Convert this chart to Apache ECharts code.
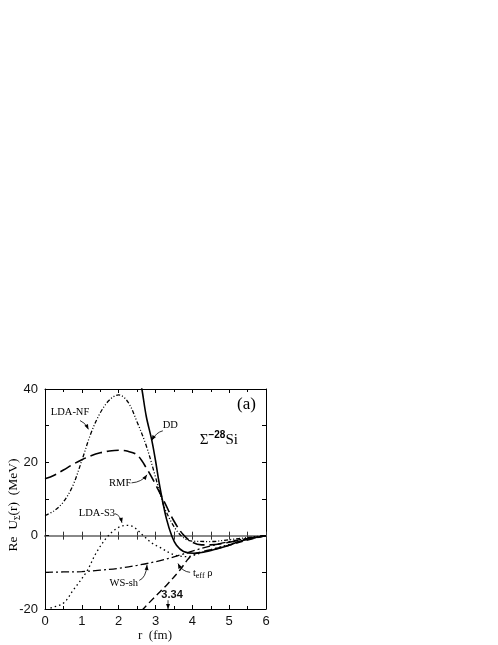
<!DOCTYPE html>
<html>
<head>
<meta charset="utf-8">
<script src="https://cdn.jsdelivr.net/npm/echarts@6/dist/echarts.min.js"></script>
<style>
  html, body { margin: 0; padding: 0; background: #fff; }
  #chart { width: 498px; height: 645px; }
</style>
</head>
<body>
<div id="chart"></div>
<script>
// curves: r in fm, Re U in MeV
const ddR = [2.55, 2.63, 2.75, 2.9, 3.0, 3.08, 3.17, 3.3, 3.44, 3.57, 3.76, 4.03, 4.3, 4.66, 5.0, 5.3, 5.65, 6.0]
const ddU = [44, 40, 32.5, 26, 20.5, 15.5, 10.6, 4.5, 0, -2.6, -4.3, -4.8, -4.5, -3.6, -2.6, -1.5, -0.6, 0]

const nfR = [0, 0.25, 0.5, 0.75, 1.0, 1.25, 1.5, 1.75, 2.0, 2.25, 2.5, 2.75, 3.0, 3.12, 3.25, 3.5, 3.75, 4.0, 4.5, 5.0, 5.5, 6.0]
const nfU = [5.5, 6.8, 9.2, 13.5, 20.5, 28, 33.5, 37, 38.4, 36.5, 31, 24.5, 16, 11.6, 7.5, 2.5, -0.5, -1.5, -1.6, -1.1, -0.5, 0]

const rmfR = [0, 0.25, 0.5, 0.75, 1.0, 1.25, 1.5, 1.75, 2.0, 2.25, 2.5, 2.75, 3.0, 3.25, 3.5, 3.75, 4.0, 4.25, 4.5, 5.0, 5.5, 6.0]
const rmfU = [15.5, 16.5, 17.9, 19.4, 20.7, 21.8, 22.6, 23.1, 23.3, 23.0, 22.0, 18.5, 14.0, 9.0, 4.0, 0.3, -1.8, -2.5, -2.5, -1.8, -0.8, 0]

const s3R = [0.05, 0.14, 0.5, 0.77, 1.13, 1.4, 1.72, 2.0, 2.2, 2.4, 2.67, 2.9, 3.1, 3.5, 3.85, 4.2, 4.5, 5.0, 5.5, 6.0]
const s3U = [-20.5, -19.8, -18.4, -14.8, -9.8, -4.5, 0, 2.3, 2.8, 2.4, 0, -2, -3.1, -5.2, -5.7, -4.8, -3.8, -2.4, -1.0, 0]

const wsR = [0, 0.5, 1.0, 1.5, 2.0, 2.5, 3.0, 3.5, 4.0, 4.5, 5.0, 5.5, 6.0]
const wsU = [-10, -9.9, -9.8, -9.4, -8.9, -8.1, -7.1, -5.8, -4.2, -2.8, -1.6, -0.7, 0]

const teffR = [2.62, 3.0, 3.3, 3.67, 3.85, 4.0, 4.3, 4.66, 5.0, 5.5, 6.0]
const teffU = [-20.5, -16.5, -13.5, -9.3, -6.8, -5.3, -4.3, -3.5, -2.6, -1.2, 0]

const xTicks = { min: 0, max: 6, interval: 1 }
const yTicks = { min: -20, max: 40, interval: 20 }

const pairs = (xs, ys) => xs.map((x, i) => [x, ys[i]])

const chart = echarts.init(document.getElementById('chart'))

const serif = '"Liberation Serif", "DejaVu Serif", serif'
const sans = '"Liberation Sans", Arial, sans-serif'

function frameAxis(pos, extra) {
  return Object.assign({
    type: 'value',
    position: pos,
    min: xTicks.min,
    max: xTicks.max,
    interval: xTicks.interval,
    axisLine: { onZero: false, lineStyle: { color: '#000', width: 1 } },
    axisTick: { inside: true, length: 4, lineStyle: { color: '#000' } },
    minorTick: { show: true, splitNumber: 2, length: 3, lineStyle: { color: '#000' } },
    axisLabel: { show: false },
    splitLine: { show: false },
  }, extra)
}

function zeroAxis(pos) {
  return {
    type: 'value',
    position: pos,
    min: xTicks.min,
    max: xTicks.max,
    interval: xTicks.interval,
    axisLine: { onZero: true, onZeroAxisIndex: 0, lineStyle: { color: '#888', width: 2 } },
    axisTick: { inside: true, length: 4, lineStyle: { color: '#333' } },
    minorTick: { show: true, splitNumber: 2, length: 4, lineStyle: { color: '#333' } },
    axisLabel: { show: false },
    splitLine: { show: false },
  }
}

function yFrame(pos, extra) {
  return Object.assign({
    type: 'value',
    position: pos,
    min: yTicks.min,
    max: yTicks.max,
    interval: yTicks.interval,
    axisLine: { show: true, onZero: false, lineStyle: { color: '#000', width: 1 } },
    axisTick: { inside: true, length: 4, lineStyle: { color: '#000' } },
    minorTick: { show: true, splitNumber: 2, length: 4, lineStyle: { color: '#000' } },
    axisLabel: { show: false },
    splitLine: { show: false },
  }, extra)
}

function curve(name, xs, ys, type, width) {
  return {
    name,
    type: 'line',
    data: pairs(xs, ys),
    showSymbol: false,
    symbol: 'none',
    smooth: 0.35,
    clip: true,
    z: 5,
    lineStyle: { color: '#000', width: width, type: type },
  }
}

chart.setOption({
  animation: false,
  backgroundColor: '#fff',
  grid: { left: 45, top: 389, width: 221, height: 220 },
  xAxis: [
    frameAxis('bottom', {
      axisLabel: { show: true, margin: 6, fontSize: 13, fontFamily: sans, color: '#111' },
    }),
    frameAxis('top'),
    zeroAxis('bottom'),
    zeroAxis('top'),
  ],
  yAxis: [
    yFrame('left', {
      axisLabel: { show: true, margin: 7, fontSize: 13, fontFamily: sans, color: '#111' },
    }),
    yFrame('right'),
  ],
  series: [
    curve('DD', ddR, ddU, 'solid', 1.6),
    curve('LDA-NF', nfR, nfU, [4, 2, 1, 2, 1, 2], 1.3),
    curve('RMF', rmfR, rmfU, [12, 5], 1.6),
    curve('LDA-S3', s3R, s3U, [1.5, 3], 1.3),
    curve('WS-sh', wsR, wsU, [8, 3, 2, 3], 1.3),
    curve('teff', teffR, teffU, [7, 4], 1.4),
  ],
})

// annotations placed in data coordinates
const px = p => chart.convertToPixel({ gridIndex: 0 }, p)

const labels = [
  { at: [0.68, 33.6], text: 'LDA-NF' },
  { at: [3.40, 30.2], text: 'DD' },
  { at: [2.04, 14.4], text: 'RMF' },
  { at: [1.41, 6.2], text: 'LDA-S3' },
  { at: [2.14, -12.9], text: 'WS-sh' },
  { at: [4.28, -10.2], text: '{t|t}{s|eff}{t| ρ}' },
]

const arrows = [
  { from: [0.95, 31.4], ctrl: [1.08, 31.0], to: [1.18, 29.0] },
  { from: [3.20, 28.6], ctrl: [3.02, 28.2], to: [2.90, 26.0] },
  { from: [2.35, 14.4], ctrl: [2.63, 14.6], to: [2.77, 16.6] },
  { from: [1.90, 6.0], ctrl: [2.04, 5.6], to: [2.09, 3.5] },
  { from: [2.56, -12.2], ctrl: [2.74, -11.5], to: [2.77, -8.0] },
  { from: [3.94, -10.0], ctrl: [3.72, -9.8], to: [3.61, -7.6] },
  { from: [3.34, -17.6], ctrl: [3.34, -18.8], to: [3.34, -20] },
]

const graphics = []

labels.forEach(l => {
  const p = px(l.at)
  graphics.push({
    type: 'text', x: p[0], y: p[1], z: 20,
    style: {
      text: l.text.indexOf('{') === 0 ? l.text : '{t|' + l.text + '}',
      align: 'center', verticalAlign: 'middle',
      rich: {
        t: { fontFamily: serif, fontSize: 10.5, color: '#222', lineHeight: 14 },
        s: { fontFamily: serif, fontSize: 8, color: '#222', lineHeight: 8, verticalAlign: 'bottom' },
      },
    },
  })
})

arrows.forEach(a => {
  const f = px(a.from), c = px(a.ctrl), t = px(a.to)
  graphics.push({
    type: 'bezierCurve', z: 20,
    shape: { x1: f[0], y1: f[1], cpx1: c[0], cpy1: c[1], x2: t[0], y2: t[1] },
    style: { stroke: '#000', lineWidth: 0.8, fill: null },
  })
  let dx = t[0] - c[0], dy = t[1] - c[1]
  const len = Math.sqrt(dx * dx + dy * dy) || 1
  dx /= len; dy /= len
  const bx = t[0] - dx * 5, by = t[1] - dy * 5
  graphics.push({
    type: 'polygon', z: 20,
    shape: { points: [[t[0], t[1]], [bx - dy * 2, by + dx * 2], [bx + dy * 2, by - dx * 2]] },
    style: { fill: '#000' },
  })
})

const p334 = px([3.45, -16.3])
graphics.push({
  type: 'text', x: p334[0], y: p334[1], z: 20,
  style: { text: '3.34', font: 'bold 11px ' + sans, fill: '#111', align: 'center', verticalAlign: 'middle' },
})

const pa = px([5.47, 35.8])
graphics.push({
  type: 'text', x: pa[0], y: pa[1], z: 20,
  style: { text: '(a)', font: '17px ' + serif, fill: '#000', align: 'center', verticalAlign: 'middle' },
})

const ps = px([4.2, 26.0])
graphics.push({
  type: 'text', x: ps[0], y: ps[1], z: 20,
  style: {
    text: '{b|Σ}{p|−28}{b|Si}',
    align: 'left', verticalAlign: 'middle',
    rich: {
      b: { fontFamily: serif, fontSize: 15, color: '#000', lineHeight: 20 },
      p: { fontFamily: sans, fontSize: 10, fontWeight: 'bold', color: '#000', lineHeight: 10, verticalAlign: 'top' },
    },
  },
})

// axis titles
graphics.push({
  type: 'text', x: 13, y: 505, rotation: Math.PI / 2, z: 20,
  style: {
    text: '{a|Re  U}{s|Σ}{a|(r)  (MeV)}',
    align: 'center', verticalAlign: 'middle',
    rich: {
      a: { fontFamily: serif, fontSize: 13.5, color: '#111', lineHeight: 18 },
      s: { fontFamily: serif, fontSize: 8, color: '#111', lineHeight: 8, verticalAlign: 'bottom' },
    },
  },
})
graphics.push({
  type: 'text', x: 155, y: 636, z: 20,
  style: { text: 'r  (fm)', font: '13px ' + serif, fill: '#111', align: 'center', verticalAlign: 'middle' },
})

chart.setOption({ graphic: graphics })
</script>
</body>
</html>
